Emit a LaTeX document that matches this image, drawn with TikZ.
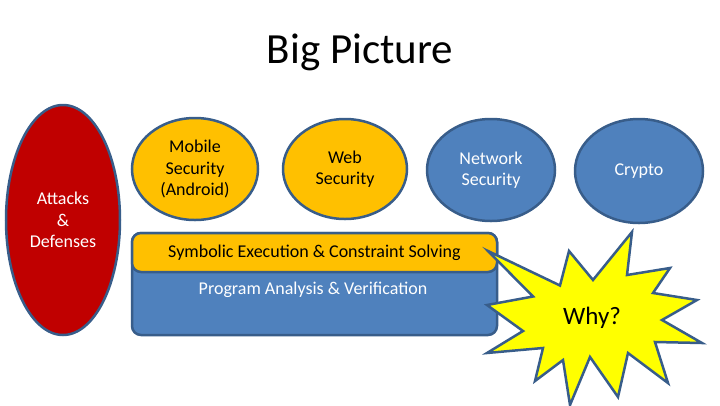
\documentclass[tikz,border=0pt]{standalone}
\usepackage{fontspec}
\setmainfont{Carlito}
\usetikzlibrary{positioning,shapes.geometric}
\definecolor{bpRed}{RGB}{192,0,0}
\definecolor{bpOrange}{RGB}{255,192,0}
\definecolor{bpBlue}{RGB}{79,129,189}
\definecolor{bpEdge}{RGB}{56,93,138}
\definecolor{bpYellow}{RGB}{255,255,0}

\begin{document}
\begin{tikzpicture}[
  x=1pt, y=-1pt,
  every node/.style={font=\fontsize{18}{21.5}\selectfont, align=center, inner sep=0pt},
  topic/.style={ellipse, draw=bpEdge, line width=2.5pt, minimum width=126pt, minimum height=102pt},
  layer/.style={draw=bpEdge, line width=2.5pt, rounded corners=9pt, minimum width=365pt},
  burst/.style={draw=bpEdge, line width=2.5pt, fill=bpYellow, line join=miter}
]
\useasboundingbox (0,0) rectangle (720,405);

% Title
\node[font=\fontsize{43}{50}\selectfont] (title) at (360,52) {Big Picture};

% Side ellipse
\node[topic, fill=bpRed, text=white, minimum width=114pt, minimum height=230pt] (attacks) at (63,220) {Attacks\\\&\\Defenses};

% Application areas
\node[topic, fill=bpOrange] (mobile) at (195,169) {Mobile\\Security\\(Android)};
\node[topic, fill=bpOrange, minimum width=124pt, minimum height=100pt] (web) at (345,169) {Web\\Security};
\node[topic, fill=bpBlue, text=white, minimum width=128pt] (network) at (491,170) {Network\\Security};
\node[topic, fill=bpBlue, text=white, minimum width=128pt, minimum height=104pt] (crypto) at (639,171) {Crypto};

% Foundation layers
\node[layer, fill=bpBlue, minimum height=102pt] (pav) at (314.5,284) {};
\node[layer, fill=bpOrange, minimum height=39pt] (symex) at (314.5,252.5) {Symbolic Execution \& Constraint Solving};
\node[text=white] (pavlabel) at (313,290) {Program Analysis \& Verification};

% Starburst
\draw[burst] (488,251) -- (560,285.5) -- (569,251) -- (593,280) -- (632,232)
  -- (627,275) -- (670,268) -- (653,293) -- (697,300) -- (662,320)
  -- (702,343) -- (655,342) -- (668,383) -- (628,353) -- (618,397)
  -- (590,357) -- (570,405) -- (563,360) -- (535,381) -- (543,348)
  -- (487,353) -- (523,331) -- (487,305) -- (533,296.5) -- cycle;
\node[font=\fontsize{25}{30}\selectfont] (why) at (592,318) {Why?};

\end{tikzpicture}
\end{document}
